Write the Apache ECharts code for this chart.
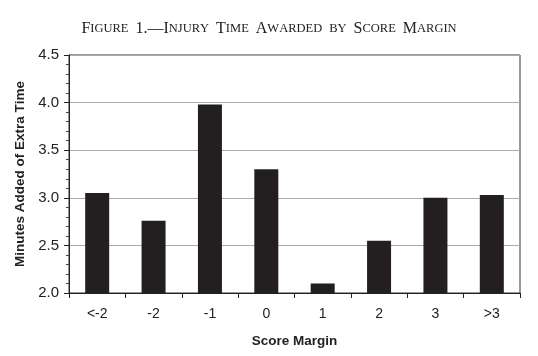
<!DOCTYPE html>
<html><head><meta charset="utf-8">
<script src="https://cdn.jsdelivr.net/npm/echarts@6/dist/echarts.min.js"></script>
<style>html,body{margin:0;padding:0;background:#fff}#c{width:538px;height:356px}</style>
</head><body><div id="c"></div>
<script>
const categories = ['<-2', '-2', '-1', '0', '1', '2', '3', '>3'];
const minutesAdded = [3.05, 2.76, 3.98, 3.30, 2.10, 2.55, 3.00, 3.03];
const yTicks = [2.0, 2.5, 3.0, 3.5, 4.0, 4.5];
const titleWords = ['Figure', '1.—Injury', 'Time', 'Awarded', 'by', 'Score', 'Margin'];

function smallCaps(words) {
  return words.map(w => {
    let out = '';
    for (const ch of w) {
      if (/[a-z]/.test(ch)) out += '{s|' + ch.toUpperCase() + '}';
      else out += '{b|' + ch + '}';
    }
    return out;
  }).join('{w| }');
}

const chart = echarts.init(document.getElementById('c'), null, {renderer: 'canvas'});
chart.setOption({
  animation: false,
  backgroundColor: '#fff',
  title: {
    text: smallCaps(titleWords),
    left: 'center', top: 16,
    textStyle: {
      rich: {
        b: {fontFamily: 'Liberation Serif', fontSize: 16, fontWeight: 'normal', color: '#222'},
        s: {fontFamily: 'Liberation Serif', fontSize: 12.5, fontWeight: 'normal', color: '#222'},
        w: {fontFamily: 'Liberation Serif', fontSize: 16, fontWeight: 'normal', color: '#222', width: 7}
      }
    }
  },
  grid: {left: 69, right: 18, top: 55, bottom: 63, show: true, borderColor: '#333', borderWidth: 1},
  xAxis: {
    type: 'category', data: categories,
    axisLine: {lineStyle: {color: '#222', width: 1}},
    axisTick: {show: true, length: 5, alignWithLabel: false, lineStyle: {color: '#222'}},
    axisLabel: {fontFamily: 'Liberation Sans', fontSize: 14, color: '#222', margin: 14},
    name: 'Score Margin', nameLocation: 'middle', nameGap: 41,
    nameTextStyle: {fontFamily: 'Liberation Sans', fontSize: 13.5, fontWeight: 'bold', color: '#222'}
  },
  yAxis: {
    type: 'value', min: yTicks[0], max: yTicks[yTicks.length - 1], interval: 0.5,
    axisLine: {show: true, lineStyle: {color: '#222', width: 1}},
    axisTick: {show: true, length: 5, lineStyle: {color: '#222'}},
    minorTick: {show: true, splitNumber: 5, length: 3, lineStyle: {color: '#444'}},
    splitLine: {show: true, lineStyle: {color: '#aaa', width: 1}},
    axisLabel: {fontFamily: 'Liberation Sans', fontSize: 15, color: '#222', margin: 10,
      formatter: v => v.toFixed(1)},
    name: 'Minutes Added of Extra Time', nameLocation: 'middle', nameGap: 38,
    nameTextStyle: {fontFamily: 'Liberation Sans', fontSize: 13.5, fontWeight: 'bold', color: '#222'}
  },
  series: [{
    type: 'bar', data: minutesAdded, barWidth: 24,
    itemStyle: {color: '#231f20'}
  }]
});
</script></body></html>
